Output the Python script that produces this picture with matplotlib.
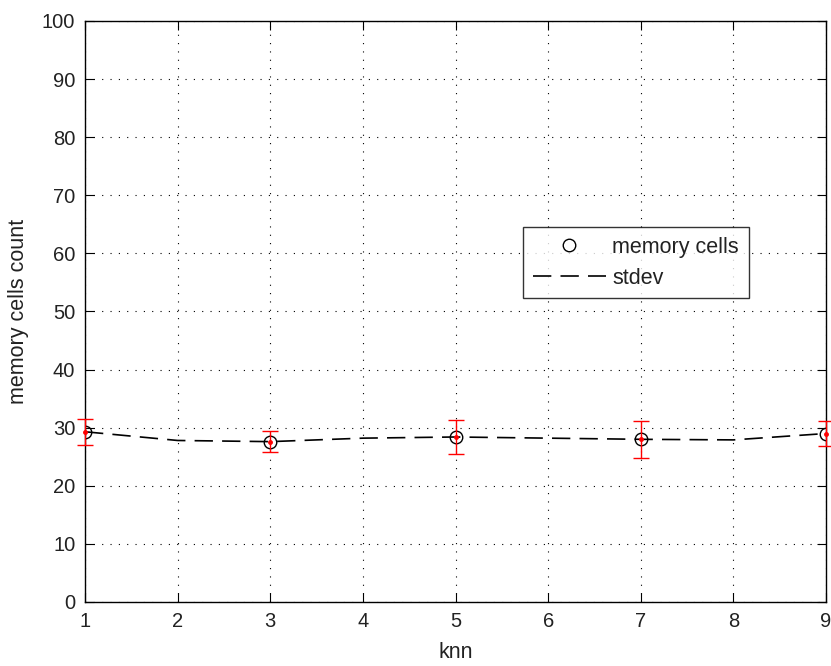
import numpy as np
import matplotlib
matplotlib.use("Agg")
import matplotlib.pyplot as plt

plt.rcParams['font.family'] = ['Liberation Sans', 'DejaVu Sans']

# knn values where the experiment was run
knn = [1, 3, 5, 7, 9]
mean_cells = [29.3, 27.6, 28.4, 28.0, 29.0]
std_cells = [2.2, 1.8, 2.9, 3.2, 2.2]

# dashed trend line over every knn value
knn_all = [1, 2, 3, 4, 5, 6, 7, 8, 9]
line_cells = [29.3, 27.8, 27.6, 28.2, 28.4, 28.2, 28.0, 27.9, 29.0]

fig = plt.figure(figsize=(8.31, 6.66), dpi=100)
ax = fig.add_axes([0.1023, 0.0961, 0.8917, 0.8724])

ax.plot(knn, mean_cells, 'o', color='black', markerfacecolor='none',
        markersize=9, markeredgewidth=1.0, label='memory cells', zorder=3)
ax.plot(knn_all, line_cells, '--', color='black', linewidth=1.2,
        dashes=(11, 5.5), label='stdev', zorder=3)
ax.errorbar(knn, mean_cells, yerr=std_cells, fmt='.', color='red',
            markersize=5, capsize=5.5, elinewidth=1.0, capthick=1.0,
            zorder=4, clip_on=False)

ax.set_xlim(1, 9)
ax.set_ylim(0, 100)
ax.set_xticks(range(1, 10))
ax.set_yticks(range(0, 101, 10))
ax.grid(True, color='black', linestyle=(0, (1, 6.5)), linewidth=0.8)
ax.tick_params(axis='both', direction='in', length=6.5, labelsize=14.5,
               top=True, right=True, labelcolor='#222222')
ax.tick_params(axis='y', pad=7)
ax.tick_params(axis='x', pad=7)
for s in ax.spines.values():
    s.set_linewidth(1.0)

ax.set_xlabel('knn', fontsize=15.5, labelpad=8, color='#222222')
ax.set_ylabel('memory cells count', fontsize=15.5, labelpad=9, color='#222222')

leg = ax.legend(loc='upper left', bbox_to_anchor=(0.591, 0.645),
                borderaxespad=0, fontsize=15.5, frameon=True, fancybox=False,
                edgecolor='black', handlelength=3.4, handletextpad=0.3,
                borderpad=0.45, labelspacing=0.45)
leg.get_frame().set_linewidth(1.0)
for t in leg.get_texts():
    t.set_color('#222222')

fig.savefig('out.png', dpi=100)
